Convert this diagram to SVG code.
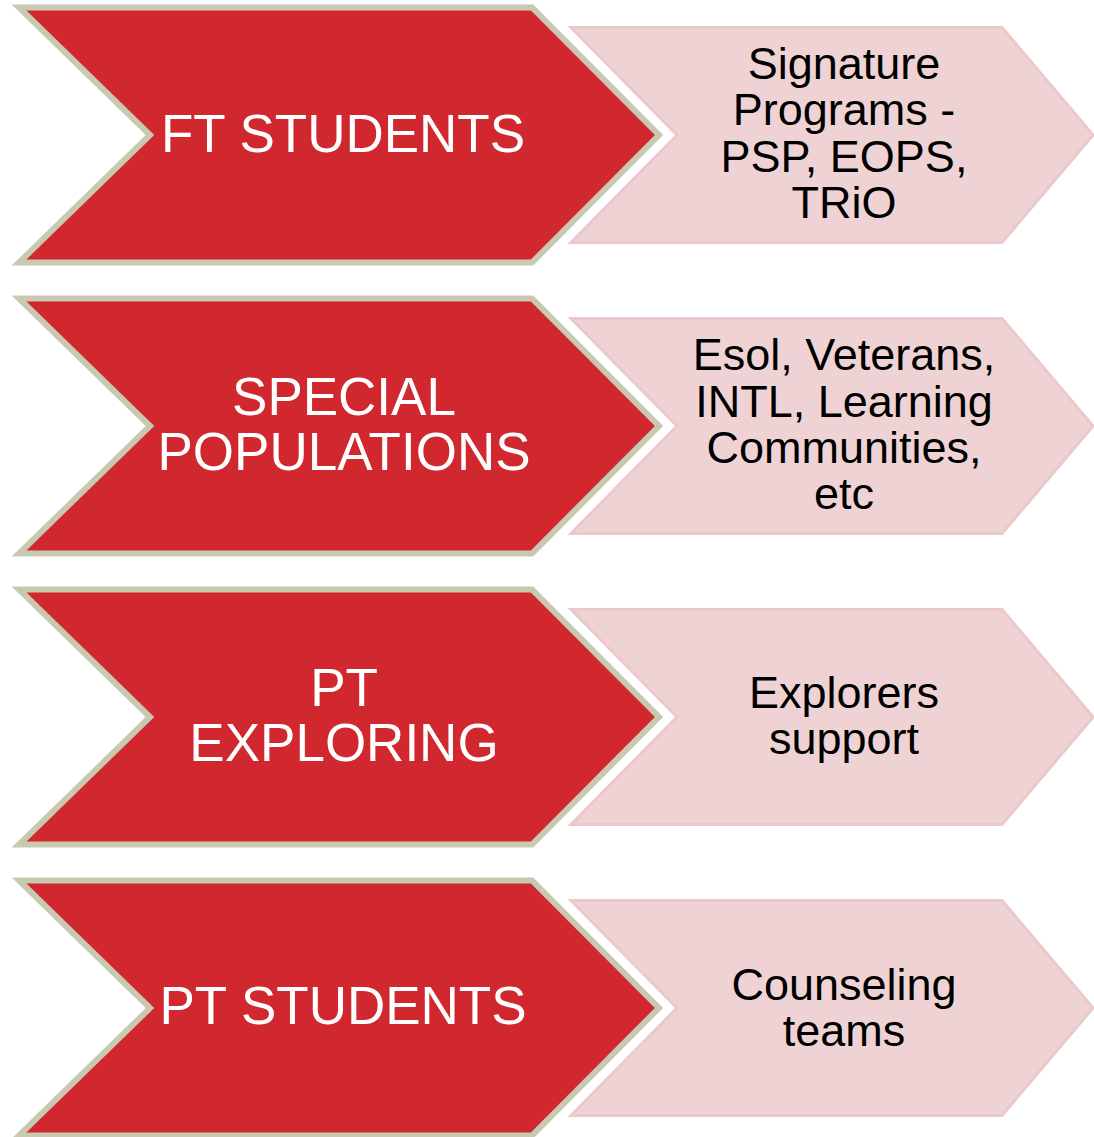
<svg xmlns="http://www.w3.org/2000/svg" width="1094" height="1137" viewBox="0 0 1094 1137">
  <defs>
    <style>
      .main { fill: #D0282E; stroke: #C9C9B1; stroke-width: 6; stroke-linejoin: miter; }
      .sub { fill: #EFD3D4; stroke: #EBC9CA; stroke-width: 3; stroke-linejoin: miter; }
      .mt { font-family: "Liberation Sans", Arial, sans-serif; font-size: 53px; fill: #FFFFFF; text-anchor: middle; }
      .st { font-family: "Liberation Sans", Arial, sans-serif; font-size: 45px; fill: #000000; text-anchor: middle; }
    </style>
    <!-- chevron shapes centred on y = 0 -->
    <polygon id="mainShape" points="19,-127.5 532,-127.5 659,0 532,127.5 19,127.5 150,0"/>
    <polygon id="subShape" points="571,-107.5 1002,-107.5 1093,0 1002,107.5 571,107.5 677,0"/>
  </defs>
  <rect width="1094" height="1137" fill="#FFFFFF"/>

  <g id="row-ft-students">
    <g id="ft-students" transform="translate(0,135)">
      <use href="#mainShape" class="main"/>
      <text class="mt" x="343" y="17">FT STUDENTS</text>
    </g>
    <g id="signature-programs" transform="translate(0,135)">
      <use href="#subShape" class="sub"/>
      <text class="st" x="844" y="-56">Signature</text>
      <text class="st" x="844" y="-10">Programs -</text>
      <text class="st" x="844" y="37">PSP, EOPS,</text>
      <text class="st" x="844" y="83">TRiO</text>
    </g>
  </g>

  <g id="row-special-populations">
    <g id="special-populations" transform="translate(0,426)">
      <use href="#mainShape" class="main"/>
      <text class="mt" x="344" y="-11">SPECIAL</text>
      <text class="mt" x="344" y="44">POPULATIONS</text>
    </g>
    <g id="esol-veterans" transform="translate(0,426)">
      <use href="#subShape" class="sub"/>
      <text class="st" x="844" y="-56">Esol, Veterans,</text>
      <text class="st" x="844" y="-9">INTL, Learning</text>
      <text class="st" x="844" y="37">Communities,</text>
      <text class="st" x="844" y="83">etc</text>
    </g>
  </g>

  <g id="row-pt-exploring">
    <g id="pt-exploring" transform="translate(0,717)">
      <use href="#mainShape" class="main"/>
      <text class="mt" x="344" y="-11">PT</text>
      <text class="mt" x="344" y="44">EXPLORING</text>
    </g>
    <g id="explorers-support" transform="translate(0,717)">
      <use href="#subShape" class="sub"/>
      <text class="st" x="844" y="-9">Explorers</text>
      <text class="st" x="844" y="37">support</text>
    </g>
  </g>

  <g id="row-pt-students">
    <g id="pt-students" transform="translate(0,1008)">
      <use href="#mainShape" class="main"/>
      <text class="mt" x="343" y="16">PT STUDENTS</text>
    </g>
    <g id="counseling-teams" transform="translate(0,1008)">
      <use href="#subShape" class="sub"/>
      <text class="st" x="844" y="-8">Counseling</text>
      <text class="st" x="844" y="38">teams</text>
    </g>
  </g>

  <!-- no connectors: the rows are adjacent chevrons -->
  <g id="connectors"/>
</svg>
